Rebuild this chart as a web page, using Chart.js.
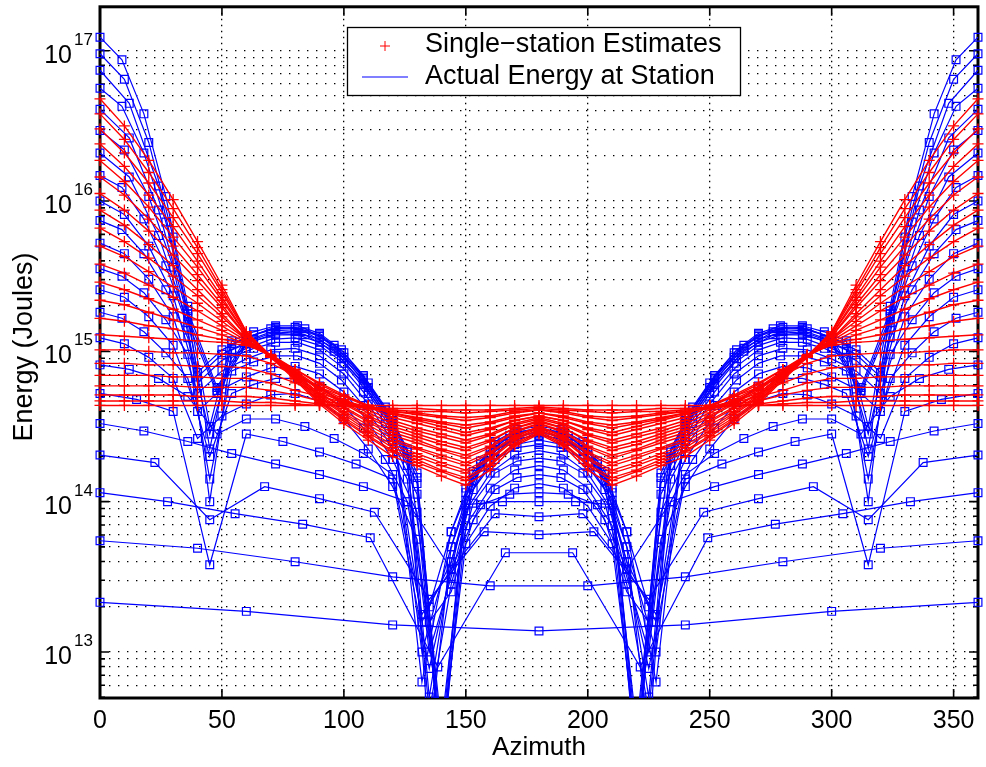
<!DOCTYPE html>
<html>
<head>
<meta charset="utf-8">
<script src="https://cdn.jsdelivr.net/npm/chart.js@4.4.1/dist/chart.umd.min.js"></script>
<style>
  html, body { margin: 0; padding: 0; background: #fff; }
  #chart-energy { display: block; }
</style>
</head>
<body>
<canvas id="chart-energy" width="986" height="767"></canvas>
<script>
// azimuth grids (deg) the curves were sampled on
const az60 = [0, 60, 120, 180, 240, 300, 360];
const az40 = [0, 40, 80, 120, 160, 200, 240, 280, 320, 360];
const az28 = [0, 27.7, 55.4, 83.1, 110.8, 138.5, 166.2, 193.8, 221.5, 249.2, 276.9, 304.6, 332.3, 360];
const az22 = [0, 22.5, 45, 67.5, 90, 112.5, 135, 157.5, 180, 202.5, 225, 247.5, 270, 292.5, 315, 337.5, 360];
const az18 = [0, 18, 36, 54, 72, 90, 108, 126, 144, 162, 180, 198, 216, 234, 252, 270, 288, 306, 324, 342, 360];
const az15 = [0, 15, 30, 45, 60, 75, 90, 105, 120, 135, 150, 165, 180, 195, 210, 225, 240, 255, 270, 285, 300, 315, 330, 345, 360];
const az12 = [0, 12, 24, 36, 48, 60, 72, 84, 96, 108, 120, 132, 144, 156, 168, 180, 192, 204, 216, 228, 240, 252, 264, 276, 288, 300, 312, 324, 336, 348, 360];
const az10 = [0, 10, 20, 30, 40, 50, 60, 70, 80, 90, 100, 110, 120, 130, 140, 150, 160, 170, 180, 190, 200, 210, 220, 230, 240, 250, 260, 270, 280, 290, 300, 310, 320, 330, 340, 350, 360];
const az9 = [0, 9, 18, 27, 36, 45, 54, 63, 72, 81, 90, 99, 108, 117, 126, 135, 144, 153, 162, 171, 180, 189, 198, 207, 216, 225, 234, 243, 252, 261, 270, 279, 288, 297, 306, 315, 324, 333, 342, 351, 360];

// actual energy at station, log10(Joules)
const actual01 = [13.33, 13.27, 13.18, 13.14, 13.18, 13.27, 13.33];
const actual02 = [13.74, 13.69, 13.60, 13.50, 13.44, 13.44, 13.50, 13.60, 13.69, 13.74];
const actual03 = [14.06, 14.00, 13.92, 13.85, 13.76, 12.90, 13.66, 13.66, 12.90, 13.76, 13.85, 13.92, 14.00, 14.06];
const actual04 = [14.31, 14.26, 13.88, 14.10, 14.02, 13.93, 13.35, 13.80, 13.78, 13.80, 13.35, 13.93, 14.02, 14.10, 13.88, 14.26, 14.31];
const actual05 = [14.52, 14.47, 14.40, 14.32, 14.25, 14.18, 14.10, 14.00, 13.55, 13.92, 13.90, 13.92, 13.55, 14.00, 14.10, 14.18, 14.25, 14.32, 14.40, 14.47, 14.52];
const actual06 = [14.72, 14.68, 14.60, 13.58, 14.45, 14.40, 14.33, 14.25, 14.15, 12.89, 13.98, 14.00, 14.00, 14.00, 13.98, 12.89, 14.15, 14.25, 14.33, 14.40, 14.45, 13.58, 14.60, 14.68, 14.72];
const actual07 = [14.91, 14.88, 14.82, 14.70, 14.45, 14.55, 14.55, 14.50, 14.42, 14.32, 14.18, 13.25, 13.55, 13.98, 14.05, 14.06, 14.05, 13.98, 13.55, 13.25, 14.18, 14.32, 14.42, 14.50, 14.55, 14.55, 14.45, 14.70, 14.82, 14.88, 14.91];
const actual08 = [15.09, 15.05, 14.96, 14.82, 14.42, 14.57, 14.65, 14.71, 14.72, 14.67, 14.55, 14.35, 14.10, 13.75, 12.4, 13.72, 13.97, 14.09, 14.12, 14.09, 13.97, 13.72, 12.4, 13.75, 14.10, 14.35, 14.55, 14.67, 14.72, 14.71, 14.65, 14.57, 14.42, 14.82, 14.96, 15.05, 15.09];
const actual09 = [15.26, 15.22, 15.13, 14.99, 14.82, 14.3, 14.72, 14.78, 14.82, 14.82, 14.77, 14.66, 14.49, 14.28, 14.00, 13.2, 13.4, 13.88, 14.08, 14.16, 14.18, 14.16, 14.08, 13.88, 13.4, 13.2, 14.00, 14.28, 14.49, 14.66, 14.77, 14.82, 14.82, 14.78, 14.72, 14.3, 14.82, 14.99, 15.13, 15.22, 15.26];
const actual10 = [15.41, 15.36, 15.23, 15.04, 14.60, 14.75, 14.83, 14.89, 14.90, 14.85, 14.73, 14.53, 14.28, 13.93, 12.3, 13.84, 14.09, 14.21, 14.24, 14.21, 14.09, 13.84, 12.3, 13.93, 14.28, 14.53, 14.73, 14.85, 14.90, 14.89, 14.83, 14.75, 14.60, 15.04, 15.23, 15.36, 15.41];
const actual11 = [15.55, 15.50, 15.39, 15.21, 14.98, 14.15, 14.87, 14.93, 14.97, 14.97, 14.92, 14.81, 14.64, 14.43, 14.15, 12.6, 13.45, 13.99, 14.19, 14.27, 14.29, 14.27, 14.19, 13.99, 13.45, 12.6, 14.15, 14.43, 14.64, 14.81, 14.92, 14.97, 14.97, 14.93, 14.87, 14.15, 14.98, 15.21, 15.39, 15.50, 15.55];
const actual12 = [15.72, 15.65, 15.48, 15.23, 14.72, 14.87, 14.95, 15.01, 15.02, 14.97, 14.85, 14.65, 14.40, 14.05, 12.5, 13.94, 14.19, 14.31, 14.34, 14.31, 14.19, 13.94, 12.5, 14.05, 14.40, 14.65, 14.85, 14.97, 15.02, 15.01, 14.95, 14.87, 14.72, 15.23, 15.48, 15.65, 15.72];
const actual13 = [15.87, 15.81, 15.65, 15.41, 15.09, 14.45, 14.96, 15.02, 15.06, 15.06, 15.01, 14.90, 14.73, 14.52, 14.24, 13.0, 13.5, 14.08, 14.28, 14.36, 14.38, 14.36, 14.28, 14.08, 13.5, 13.0, 14.24, 14.52, 14.73, 14.90, 15.01, 15.06, 15.06, 15.02, 14.96, 14.45, 15.09, 15.41, 15.65, 15.81, 15.87];
const actual14 = [16.00, 15.91, 15.70, 15.37, 14.79, 14.94, 15.02, 15.08, 15.09, 15.04, 14.92, 14.72, 14.47, 14.12, 12.2, 14.01, 14.26, 14.38, 14.41, 14.38, 14.26, 14.01, 12.2, 14.12, 14.47, 14.72, 14.92, 15.04, 15.09, 15.08, 15.02, 14.94, 14.79, 15.37, 15.70, 15.91, 16.00];
const actual15 = [16.17, 16.09, 15.88, 15.57, 15.16, 14.0, 15.01, 15.07, 15.11, 15.11, 15.06, 14.95, 14.78, 14.57, 14.29, 12.7, 13.6, 14.14, 14.34, 14.42, 14.44, 14.42, 14.34, 14.14, 13.6, 12.7, 14.29, 14.57, 14.78, 14.95, 15.06, 15.11, 15.11, 15.07, 15.01, 14.0, 15.16, 15.57, 15.88, 16.09, 16.17];
const actual16 = [16.32, 16.16, 15.77, 15.19, 14.72, 15.05, 15.12, 15.11, 15.00, 14.79, 14.50, 13.2, 13.6, 14.23, 14.40, 14.45, 14.40, 14.23, 13.6, 13.2, 14.50, 14.79, 15.00, 15.11, 15.12, 15.05, 14.72, 15.19, 15.77, 16.16, 16.32];
const actual17 = [16.47, 16.34, 16.03, 15.56, 14.83, 14.98, 15.06, 15.12, 15.13, 15.08, 14.96, 14.76, 14.51, 14.16, 12.4, 14.06, 14.31, 14.43, 14.46, 14.43, 14.31, 14.06, 12.4, 14.16, 14.51, 14.76, 14.96, 15.08, 15.13, 15.12, 15.06, 14.98, 14.83, 15.56, 16.03, 16.34, 16.47];
const actual18 = [16.61, 16.42, 15.94, 15.23, 14.74, 15.07, 15.14, 15.13, 15.02, 14.81, 14.52, 13.0, 13.7, 14.25, 14.42, 14.47, 14.42, 14.25, 13.7, 13.0, 14.52, 14.81, 15.02, 15.13, 15.14, 15.07, 14.74, 15.23, 15.94, 16.42, 16.61];
const actual19 = [16.75, 16.63, 16.32, 15.86, 15.25, 14.35, 15.05, 15.11, 15.15, 15.15, 15.10, 14.99, 14.82, 14.61, 14.33, 12.4, 13.7, 14.18, 14.38, 14.46, 14.48, 14.46, 14.38, 14.18, 13.7, 12.4, 14.33, 14.61, 14.82, 14.99, 15.10, 15.15, 15.15, 15.11, 15.05, 14.35, 15.25, 15.86, 16.32, 16.63, 16.75];
const actual20 = [16.87, 16.65, 16.10, 15.27, 14.76, 15.09, 15.16, 15.15, 15.04, 14.83, 14.54, 12.8, 13.8, 14.27, 14.44, 14.49, 14.44, 14.27, 13.8, 12.8, 14.54, 14.83, 15.04, 15.15, 15.16, 15.09, 14.76, 15.27, 16.10, 16.65, 16.87];
const actual21 = [16.98, 16.81, 16.39, 15.76, 14.86, 15.01, 15.09, 15.15, 15.16, 15.11, 14.99, 14.79, 14.54, 14.19, 12.3, 14.09, 14.34, 14.46, 14.49, 14.46, 14.34, 14.09, 12.3, 14.19, 14.54, 14.79, 14.99, 15.11, 15.16, 15.15, 15.09, 15.01, 14.86, 15.76, 16.39, 16.81, 16.98];
const actual22 = [17.09, 16.94, 16.58, 16.03, 15.30, 14.5, 15.07, 15.13, 15.17, 15.17, 15.12, 15.01, 14.84, 14.63, 14.35, 13.3, 13.8, 14.20, 14.40, 14.48, 14.50, 14.48, 14.40, 14.20, 13.8, 13.3, 14.35, 14.63, 14.84, 15.01, 15.12, 15.17, 15.17, 15.13, 15.07, 14.5, 15.30, 16.03, 16.58, 16.94, 17.09];

// single-station estimates on the 10 deg grid, log10(Joules)
const estimate01 = [16.68, 16.50, 16.27, 16.01, 15.73, 15.44, 15.13, 14.96, 14.81, 14.65, 14.52, 14.41, 14.30, 14.24, 14.17, 14.11, 14.21, 14.37, 14.45, 14.37, 14.21, 14.11, 14.17, 14.24, 14.30, 14.41, 14.52, 14.65, 14.81, 14.96, 15.13, 15.44, 15.73, 16.01, 16.27, 16.50, 16.68];
const estimate02 = [16.58, 16.41, 16.19, 15.95, 15.69, 15.41, 15.13, 14.97, 14.82, 14.66, 14.54, 14.43, 14.33, 14.26, 14.20, 14.14, 14.24, 14.38, 14.46, 14.38, 14.24, 14.14, 14.20, 14.26, 14.33, 14.43, 14.54, 14.66, 14.82, 14.97, 15.13, 15.41, 15.69, 15.95, 16.19, 16.41, 16.58];
const estimate03 = [16.48, 16.32, 16.12, 15.89, 15.65, 15.39, 15.12, 14.97, 14.82, 14.67, 14.55, 14.44, 14.34, 14.28, 14.21, 14.16, 14.25, 14.39, 14.47, 14.39, 14.25, 14.16, 14.21, 14.28, 14.34, 14.44, 14.55, 14.67, 14.82, 14.97, 15.12, 15.39, 15.65, 15.89, 16.12, 16.32, 16.48];
const estimate04 = [16.38, 16.23, 16.04, 15.83, 15.60, 15.36, 15.11, 14.96, 14.83, 14.68, 14.56, 14.46, 14.36, 14.30, 14.24, 14.19, 14.28, 14.41, 14.48, 14.41, 14.28, 14.19, 14.24, 14.30, 14.36, 14.46, 14.56, 14.68, 14.83, 14.96, 15.11, 15.36, 15.60, 15.83, 16.04, 16.23, 16.38];
const estimate05 = [16.27, 16.13, 15.96, 15.76, 15.56, 15.34, 15.11, 14.97, 14.83, 14.69, 14.58, 14.47, 14.38, 14.32, 14.26, 14.21, 14.29, 14.42, 14.49, 14.42, 14.29, 14.21, 14.26, 14.32, 14.38, 14.47, 14.58, 14.69, 14.83, 14.97, 15.11, 15.34, 15.56, 15.76, 15.96, 16.13, 16.27];
const estimate06 = [16.16, 16.04, 15.88, 15.70, 15.51, 15.31, 15.10, 14.97, 14.84, 14.70, 14.59, 14.49, 14.40, 14.35, 14.29, 14.24, 14.32, 14.43, 14.50, 14.43, 14.32, 14.24, 14.29, 14.35, 14.40, 14.49, 14.59, 14.70, 14.84, 14.97, 15.10, 15.31, 15.51, 15.70, 15.88, 16.04, 16.16];
const estimate07 = [16.05, 15.94, 15.80, 15.64, 15.47, 15.29, 15.10, 14.97, 14.84, 14.71, 14.60, 14.51, 14.42, 14.36, 14.31, 14.26, 14.33, 14.44, 14.50, 14.44, 14.33, 14.26, 14.31, 14.36, 14.42, 14.51, 14.60, 14.71, 14.84, 14.97, 15.10, 15.29, 15.47, 15.64, 15.80, 15.94, 16.05];
const estimate08 = [15.94, 15.84, 15.71, 15.57, 15.41, 15.25, 15.08, 14.97, 14.85, 14.72, 14.62, 14.53, 14.44, 14.39, 14.34, 14.29, 14.36, 14.46, 14.52, 14.46, 14.36, 14.29, 14.34, 14.39, 14.44, 14.53, 14.62, 14.72, 14.85, 14.97, 15.08, 15.25, 15.41, 15.57, 15.71, 15.84, 15.94];
const estimate09 = [15.82, 15.73, 15.62, 15.50, 15.37, 15.23, 15.08, 14.97, 14.85, 14.72, 14.63, 14.54, 14.46, 14.41, 14.35, 14.31, 14.37, 14.47, 14.52, 14.47, 14.37, 14.31, 14.35, 14.41, 14.46, 14.54, 14.63, 14.72, 14.85, 14.97, 15.08, 15.23, 15.37, 15.50, 15.62, 15.73, 15.82];
const estimate10 = [15.70, 15.63, 15.53, 15.43, 15.32, 15.20, 15.08, 14.97, 14.86, 14.74, 14.65, 14.56, 14.48, 14.43, 14.38, 14.34, 14.40, 14.49, 14.53, 14.49, 14.40, 14.34, 14.38, 14.43, 14.48, 14.56, 14.65, 14.74, 14.86, 14.97, 15.08, 15.20, 15.32, 15.43, 15.53, 15.63, 15.70];
const estimate11 = [15.58, 15.52, 15.44, 15.36, 15.27, 15.17, 15.07, 14.97, 14.86, 14.75, 14.66, 14.57, 14.50, 14.45, 14.40, 14.36, 14.41, 14.49, 14.54, 14.49, 14.41, 14.36, 14.40, 14.45, 14.50, 14.57, 14.66, 14.75, 14.86, 14.97, 15.07, 15.17, 15.27, 15.36, 15.44, 15.52, 15.58];
const estimate12 = [15.46, 15.41, 15.35, 15.28, 15.21, 15.14, 15.06, 14.97, 14.86, 14.75, 14.67, 14.59, 14.52, 14.47, 14.43, 14.39, 14.44, 14.51, 14.55, 14.51, 14.44, 14.39, 14.43, 14.47, 14.52, 14.59, 14.67, 14.75, 14.86, 14.97, 15.06, 15.14, 15.21, 15.28, 15.35, 15.41, 15.46];
const estimate13 = [15.34, 15.31, 15.26, 15.21, 15.16, 15.11, 15.05, 14.97, 14.87, 14.76, 14.68, 14.61, 14.54, 14.49, 14.45, 14.41, 14.45, 14.52, 14.56, 14.52, 14.45, 14.41, 14.45, 14.49, 14.54, 14.61, 14.68, 14.76, 14.87, 14.97, 15.05, 15.11, 15.16, 15.21, 15.26, 15.31, 15.34];
const estimate14 = [15.22, 15.20, 15.17, 15.15, 15.11, 15.08, 15.05, 14.97, 14.88, 14.78, 14.70, 14.63, 14.56, 14.52, 14.48, 14.44, 14.48, 14.54, 14.57, 14.54, 14.48, 14.44, 14.48, 14.52, 14.56, 14.63, 14.70, 14.78, 14.88, 14.97, 15.05, 15.08, 15.11, 15.15, 15.17, 15.20, 15.22];
const estimate15 = [15.11, 15.10, 15.09, 15.08, 15.07, 15.06, 15.04, 14.98, 14.88, 14.79, 14.71, 14.64, 14.58, 14.54, 14.50, 14.46, 14.49, 14.54, 14.57, 14.54, 14.49, 14.46, 14.50, 14.54, 14.58, 14.64, 14.71, 14.79, 14.88, 14.98, 15.04, 15.06, 15.07, 15.08, 15.09, 15.10, 15.11];
const estimate16 = [15.01, 15.01, 15.00, 14.99, 14.99, 14.98, 14.97, 14.92, 14.84, 14.76, 14.70, 14.64, 14.59, 14.55, 14.52, 14.49, 14.52, 14.56, 14.59, 14.56, 14.52, 14.49, 14.52, 14.55, 14.59, 14.64, 14.70, 14.76, 14.84, 14.92, 14.97, 14.98, 14.99, 14.99, 15.00, 15.01, 15.01];
const estimate17 = [14.92, 14.92, 14.91, 14.91, 14.90, 14.90, 14.89, 14.85, 14.79, 14.72, 14.67, 14.63, 14.59, 14.56, 14.53, 14.51, 14.53, 14.57, 14.59, 14.57, 14.53, 14.51, 14.53, 14.56, 14.59, 14.63, 14.67, 14.72, 14.79, 14.85, 14.89, 14.90, 14.90, 14.91, 14.91, 14.92, 14.92];
const estimate18 = [14.84, 14.84, 14.84, 14.83, 14.83, 14.82, 14.82, 14.79, 14.74, 14.70, 14.66, 14.63, 14.60, 14.58, 14.56, 14.54, 14.56, 14.59, 14.61, 14.59, 14.56, 14.54, 14.56, 14.58, 14.60, 14.63, 14.66, 14.70, 14.74, 14.79, 14.82, 14.82, 14.83, 14.83, 14.84, 14.84, 14.84];
const estimate19 = [14.77, 14.77, 14.77, 14.77, 14.76, 14.76, 14.76, 14.74, 14.71, 14.67, 14.65, 14.62, 14.60, 14.59, 14.57, 14.56, 14.57, 14.60, 14.61, 14.60, 14.57, 14.56, 14.57, 14.59, 14.60, 14.62, 14.65, 14.67, 14.71, 14.74, 14.76, 14.76, 14.76, 14.77, 14.77, 14.77, 14.77];
const estimate20 = [14.71, 14.71, 14.71, 14.71, 14.70, 14.70, 14.70, 14.69, 14.67, 14.65, 14.64, 14.62, 14.61, 14.60, 14.60, 14.59, 14.60, 14.61, 14.62, 14.61, 14.60, 14.59, 14.60, 14.60, 14.61, 14.62, 14.64, 14.65, 14.67, 14.69, 14.70, 14.70, 14.70, 14.71, 14.71, 14.71, 14.71];
const estimate21 = [14.67, 14.67, 14.67, 14.67, 14.67, 14.67, 14.66, 14.66, 14.65, 14.64, 14.64, 14.63, 14.62, 14.62, 14.61, 14.61, 14.61, 14.62, 14.63, 14.62, 14.61, 14.61, 14.61, 14.62, 14.62, 14.63, 14.64, 14.64, 14.65, 14.66, 14.66, 14.67, 14.67, 14.67, 14.67, 14.67, 14.67];
const estimate22 = [14.64, 14.64, 14.64, 14.64, 14.64, 14.64, 14.64, 14.64, 14.64, 14.64, 14.64, 14.64, 14.64, 14.64, 14.64, 14.64, 14.64, 14.64, 14.64, 14.64, 14.64, 14.64, 14.64, 14.64, 14.64, 14.64, 14.64, 14.64, 14.64, 14.64, 14.64, 14.64, 14.64, 14.64, 14.64, 14.64, 14.64];

const actualCurves = [actual01, actual02, actual03, actual04, actual05, actual06, actual07, actual08, actual09, actual10, actual11,
  actual12, actual13, actual14, actual15, actual16, actual17, actual18, actual19, actual20, actual21, actual22];
const actualGrids = [az60, az40, az28, az22, az18, az15, az12, az10, az9, az10, az9,
  az10, az9, az10, az9, az12, az10, az12, az9, az12, az10, az9];
const estimateCurves = [estimate01, estimate02, estimate03, estimate04, estimate05, estimate06, estimate07, estimate08, estimate09, estimate10, estimate11,
  estimate12, estimate13, estimate14, estimate15, estimate16, estimate17, estimate18, estimate19, estimate20, estimate21, estimate22];

const xTickValues = [0, 50, 100, 150, 200, 250, 300, 350];
const yDecades = [12, 13, 14, 15, 16, 17];
const yMultipliers = [1, 2, 3, 4, 5, 6, 7, 8, 9];
const yMin = 4.94e12, yMax = 1.96e17;

const FONT = "'Liberation Sans', Arial, sans-serif";

const yGridValues = [];
yDecades.forEach(e => yMultipliers.forEach(m => {
  const v = m * Math.pow(10, e);
  if (v > yMin && v < yMax) yGridValues.push(v);
}));

function toPoints(az, logs) {
  return az.map((a, i) => ({ x: a, y: Math.pow(10, logs[i]) }));
}

const edgeClip = { left: 8, right: 8, top: 8, bottom: 0 };

// the first dataset ends up on top, so the estimates go in first
const datasets = [];
estimateCurves.forEach(c => {
  datasets.push({
    data: toPoints(az10, c),
    borderColor: '#ff0000',
    borderWidth: 1.4,
    pointStyle: 'cross',
    pointRadius: 5.5,
    pointBorderWidth: 1.3,
    pointBorderColor: '#ff0000',
    tension: 0,
    clip: edgeClip
  });
});
actualCurves.forEach((c, i) => {
  datasets.push({
    data: toPoints(actualGrids[i], c),
    borderColor: '#0000ff',
    borderWidth: 1.2,
    pointStyle: 'rect',
    pointRadius: 5.5,
    pointBorderWidth: 1.2,
    pointBorderColor: '#0000ff',
    pointBackgroundColor: 'rgba(0,0,0,0)',
    tension: 0,
    clip: edgeClip
  });
});

function isDecade(v) {
  const l = Math.log10(v);
  return Math.abs(l - Math.round(l)) < 1e-9;
}

const axesFrame = {
  id: 'axesFrame',
  beforeDatasetsDraw(chart) {
    const { ctx, chartArea: a, scales: { x, y } } = chart;
    ctx.save();
    ctx.strokeStyle = '#000';
    ctx.lineWidth = 1.6;
    ctx.beginPath();
    xTickValues.forEach(v => {
      const px = x.getPixelForValue(v);
      ctx.moveTo(px, a.bottom); ctx.lineTo(px, a.bottom - 9);
      ctx.moveTo(px, a.top); ctx.lineTo(px, a.top + 9);
    });
    yGridValues.forEach(v => {
      const py = y.getPixelForValue(v);
      const len = isDecade(v) ? 9 : 5;
      ctx.moveTo(a.left, py); ctx.lineTo(a.left + len, py);
      ctx.moveTo(a.right, py); ctx.lineTo(a.right - len, py);
    });
    ctx.stroke();
    ctx.lineWidth = 3;
    ctx.strokeRect(a.left, a.top, a.right - a.left, a.bottom - a.top);
    ctx.restore();
  },
  afterDraw(chart) {
    const { ctx, chartArea: a, scales: { y } } = chart;
    ctx.save();
    ctx.fillStyle = '#000';
    // decade labels with superscript exponent
    yDecades.forEach(e => {
      const v = Math.pow(10, e);
      if (v < yMin || v > yMax) return;
      const py = y.getPixelForValue(v);
      ctx.font = '25px ' + FONT;
      ctx.textAlign = 'right';
      ctx.textBaseline = 'alphabetic';
      ctx.fillText('10', 72, py + 12);
      ctx.font = '17px ' + FONT;
      ctx.textAlign = 'left';
      ctx.fillText(String(e), 74, py - 6);
    });
    // axis titles
    ctx.font = '26px ' + FONT;
    ctx.textAlign = 'center';
    ctx.textBaseline = 'middle';
    ctx.fillText('Azimuth', (a.left + a.right) / 2, 748);
    ctx.save();
    ctx.translate(25, 347);
    ctx.rotate(-Math.PI / 2);
    ctx.font = '27px ' + FONT;
    ctx.fillText('Energy (Joules)', 0, 0);
    ctx.restore();

    // legend box
    ctx.fillStyle = '#fff';
    ctx.fillRect(347, 27, 393, 68);
    ctx.strokeStyle = '#000';
    ctx.lineWidth = 1.3;
    ctx.strokeRect(347.5, 27.5, 393, 68);
    ctx.strokeStyle = '#ff0000';
    ctx.lineWidth = 1;
    ctx.beginPath();
    ctx.moveTo(380, 46); ctx.lineTo(390, 46);
    ctx.moveTo(385, 41); ctx.lineTo(385, 51);
    ctx.stroke();
    ctx.strokeStyle = '#0000ff';
    ctx.lineWidth = 1.2;
    ctx.beginPath();
    ctx.moveTo(362, 77); ctx.lineTo(408, 77);
    ctx.stroke();
    ctx.fillStyle = '#000';
    ctx.font = '27px ' + FONT;
    ctx.textAlign = 'left';
    ctx.textBaseline = 'middle';
    ctx.fillText('Single\u2212station Estimates', 425, 45);
    ctx.fillText('Actual Energy at Station', 425, 77);
    ctx.restore();
  }
};

const chartEnergyGet = document.getElementById('chart-energy');
const chartEnergyRender = new Chart(chartEnergyGet, {
  type: 'line',
  data: { datasets: datasets },
  plugins: [axesFrame],
  options: {
    responsive: false,
    animation: false,
    events: [],
    layout: { padding: { left: 0, right: 8, top: 5, bottom: 0 } },
    plugins: { legend: { display: false }, tooltip: { enabled: false } },
    scales: {
      x: {
        type: 'linear',
        min: 0,
        max: 360,
        afterFit: s => { s.height = 69; },
        afterBuildTicks: s => { s.ticks = xTickValues.map(v => ({ value: v })); },
        ticks: { color: '#000', font: { size: 25, family: FONT }, padding: 8, maxRotation: 0, autoSkip: false },
        grid: { color: '#000', lineWidth: 1.3, drawTicks: false },
        border: { display: false, dash: [1.4, 4.6] }
      },
      y: {
        type: 'logarithmic',
        min: yMin,
        max: yMax,
        afterFit: s => { s.width = 100; },
        afterBuildTicks: s => { s.ticks = yGridValues.map(v => ({ value: v })); },
        ticks: { display: false },
        grid: { color: '#000', lineWidth: 1.3, drawTicks: false },
        border: { display: false, dash: [1.4, 7.6] }
      }
    }
  }
});
</script>
</body>
</html>
